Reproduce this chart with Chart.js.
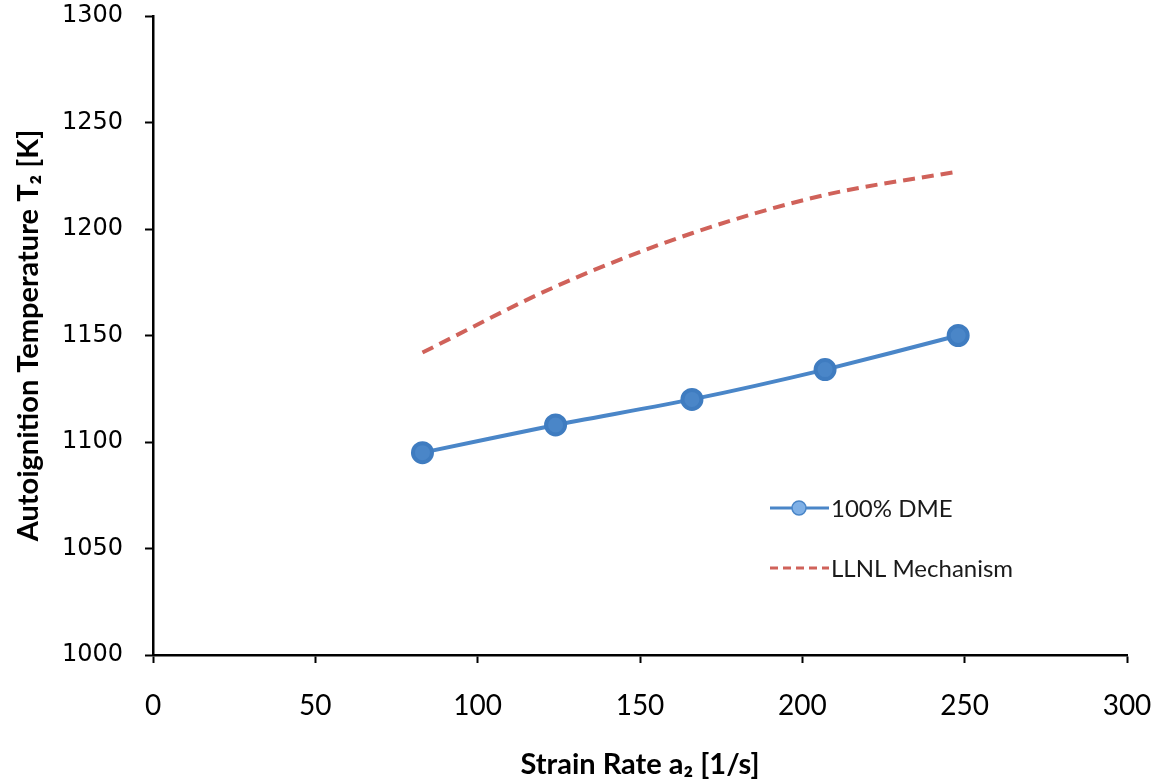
<!DOCTYPE html>
<html>
<head>
<meta charset="utf-8">
<script src="https://cdn.jsdelivr.net/npm/chart.js@4"></script>
<style>
  html, body { margin: 0; padding: 0; background: #fff; }
  #wrap { width: 1158px; height: 782px; }
</style>
</head>
<body>
<div id="wrap"><canvas id="grafica" width="1158" height="782"></canvas></div>
<script>
// datos
const strainRate = [83, 124, 166, 207, 248];
const dmeTemp = [1095, 1108, 1120, 1134, 1150];
const llnlTemp = [1142, 1173, 1198, 1216, 1227];
const xTicks = [0, 50, 100, 150, 200, 250, 300];
const yTicks = [1000, 1050, 1100, 1150, 1200, 1250, 1300];

const ctx = document.getElementById("grafica");

// leyenda dentro del area del grafico
const leyendaInterna = {
    id: "leyendaInterna",
    afterDraw(chart) {
        const c = chart.ctx;
        const ds = chart.data.datasets;
        const filas = [508, 568];
        c.save();
        ds.forEach((d, i) => {
            const y = filas[i];
            c.beginPath();
            c.strokeStyle = d.borderColor;
            c.lineWidth = 3;
            c.setLineDash(d.borderDash ? [8, 5] : []);
            c.moveTo(770, y);
            c.lineTo(829, y);
            c.stroke();
            c.setLineDash([]);
            if (d.pointRadius > 0) {
                c.beginPath();
                c.fillStyle = "#7fb0e6";
                c.strokeStyle = d.borderColor;
                c.lineWidth = 1.5;
                c.arc(799, y, 7, 0, Math.PI * 2);
                c.fill();
                c.stroke();
            }
            c.fillStyle = "#1a1a1a";
            c.font = "24px Lato";
            c.textBaseline = "middle";
            c.fillText(d.label, 831, y + 1);
        });
        c.restore();
    }
};

new Chart(ctx, {
    type: "scatter",
    data: {
        datasets: [
            {
                label: "100% DME",
                data: strainRate.map((x, i) => ({ x: x, y: dmeTemp[i] })),
                showLine: true,
                borderColor: "#4a86c8",
                backgroundColor: "#4a86c8",
                borderWidth: 4,
                pointRadius: 9.5,
                pointBackgroundColor: "#4a86c8",
                pointBorderColor: "#3f7cc0",
                tension: 0.2
            },
            {
                label: "LLNL Mechanism",
                data: strainRate.map((x, i) => ({ x: x, y: llnlTemp[i] })),
                showLine: true,
                borderColor: "#d0625a",
                backgroundColor: "#d0625a",
                borderWidth: 4,
                borderDash: [12, 7],
                pointRadius: 0,
                cubicInterpolationMode: "monotone"
            }
        ]
    },
    options: {
        responsive: false,
        animation: false,
        layout: { padding: { left: 8, right: 31, top: 16, bottom: 0 } },
        plugins: {
            legend: { display: false },
            tooltip: { enabled: false }
        },
        scales: {
            x: {
                type: "linear",
                min: 0,
                max: 300,
                afterBuildTicks: s => { s.ticks = xTicks.map(v => ({ value: v })); },
                afterFit: s => { s.height = 127; s.paddingLeft = 0; s.paddingRight = 0; },
                border: { display: true, color: "#000", width: 2.5 },
                grid: { drawOnChartArea: false, drawTicks: true, tickLength: 8, tickWidth: 2, color: "#000" },
                ticks: { color: "#000", padding: 26, font: { family: "Lato", size: 28 } },
                title: {
                    display: true,
                    text: "Strain Rate a\u2082 [1/s]",
                    color: "#000",
                    font: { family: "Lato", size: 29, weight: "bold" },
                    padding: { top: 0, bottom: 0 }
                }
            },
            y: {
                type: "linear",
                min: 1000,
                max: 1300,
                afterBuildTicks: s => { s.ticks = yTicks.map(v => ({ value: v })); },
                afterFit: s => { s.width = 145; s.paddingTop = 0; s.paddingBottom = 0; },
                border: { display: true, color: "#000", width: 2.5 },
                grid: { drawOnChartArea: false, drawTicks: true, tickLength: 8, tickWidth: 2, color: "#000" },
                ticks: {
                    color: "#000",
                    padding: 22,
                    font: { family: "DejaVu Sans", size: 24 },
                    callback: v => String(v)
                },
                title: {
                    display: true,
                    text: "Autoignition Temperature T\u2082 [K]",
                    color: "#000",
                    font: { family: "Lato", size: 29, weight: "bold" },
                    padding: { top: 3, bottom: 0 }
                }
            }
        }
    },
    plugins: [leyendaInterna]
});
</script>
</body>
</html>
